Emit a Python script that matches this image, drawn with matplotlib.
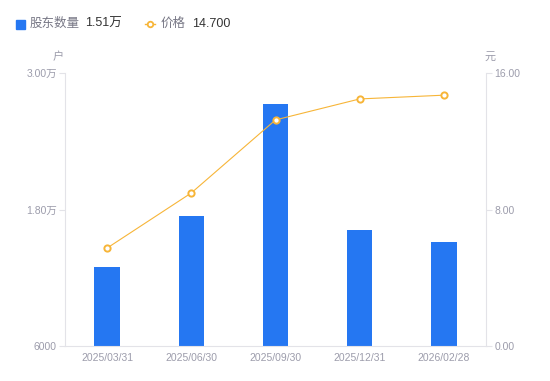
import matplotlib
matplotlib.use("Agg")
import matplotlib.pyplot as plt
from matplotlib.ticker import FixedLocator, FuncFormatter

plt.rcParams['font.family'] = ['Liberation Sans', 'Noto Sans CJK SC', 'DejaVu Sans']

dates = ['2025/03/31', '2025/06/30', '2025/09/30', '2025/12/31', '2026/02/28']
holders = [12950, 17430, 27280, 16200, 15100]
price = [5.74, 8.97, 13.25, 14.48, 14.70]

blue = '#2577F2'
orange = '#F7B538'
axis_grey = '#E3E3E8'
label_grey = '#9C9CAB'

def fmt_holders(v, pos):
    if v >= 10000:
        return '%.2f万' % (v / 10000)
    return '%d' % v

fig = plt.figure(figsize=(5.5, 3.81), dpi=100)
ax = fig.add_axes([65 / 550, 35 / 381, 421 / 550, 273 / 381])
ax2 = ax.twinx()

x = list(range(len(dates)))
ax.bar(x, holders, width=0.3, color=blue, zorder=2)
ax.set_xlim(-0.5, len(dates) - 0.5)
ax.set_ylim(6000, 30000)
ax.yaxis.set_major_locator(FixedLocator([6000, 18000, 30000]))
ax.yaxis.set_major_formatter(FuncFormatter(fmt_holders))
ax.set_xticks(x)
ax.set_xticklabels(dates)

ax2.plot(x, price, color=orange, lw=0.8, marker='o', ms=4.5,
         markerfacecolor='white', markeredgecolor=orange, markeredgewidth=1.4, zorder=3)
ax2.set_ylim(0, 16)
ax2.yaxis.set_major_locator(FixedLocator([0, 8, 16]))
ax2.yaxis.set_major_formatter(FuncFormatter(lambda v, p: '%.2f' % v))

for a in (ax, ax2):
    for s in a.spines.values():
        s.set_visible(False)
    a.tick_params(colors=axis_grey, labelcolor=label_grey, labelsize=7.5, length=4, width=0.8)
ax.spines['left'].set_visible(True)
ax.spines['left'].set_color(axis_grey)
ax.spines['bottom'].set_visible(True)
ax.spines['bottom'].set_color(axis_grey)
ax2.spines['right'].set_visible(True)
ax2.spines['right'].set_color(axis_grey)
ax.tick_params(axis='x', length=0, pad=5)
ax.tick_params(axis='y', pad=2)
ax2.tick_params(axis='y', pad=2)

fig.text(58 / 550, 1 - 57 / 381, '户', color=label_grey, fontsize=8, ha='center', va='center')
fig.text(490 / 550, 1 - 57 / 381, '元', color=label_grey, fontsize=8, ha='center', va='center')

# legend
ly = 1 - 24 / 381
fig.patches.append(plt.Rectangle((16 / 550, 1 - 29 / 381), 9 / 550, 9 / 381,
                                 transform=fig.transFigure, color=blue, figure=fig))
fig.text(30 / 550, ly, '股东数量', color='#777785', fontsize=9, va='center')
fig.text(85 / 550, ly, '%.2f万' % (holders[-1] / 10000), color='#333333', fontsize=9, va='center')
fig.lines.append(plt.Line2D([145 / 550, 150 / 550, 155 / 550], [ly, ly, ly], transform=fig.transFigure,
                            color=orange, lw=1, marker='o', ms=4, markevery=[1],
                            markerfacecolor='white', markeredgecolor=orange, markeredgewidth=1.3))
fig.text(161 / 550, ly, '价格', color='#777785', fontsize=9, va='center')
fig.text(192 / 550, ly, '%.3f' % price[-1], color='#333333', fontsize=9, va='center')

fig.savefig('out.png', dpi=100)
